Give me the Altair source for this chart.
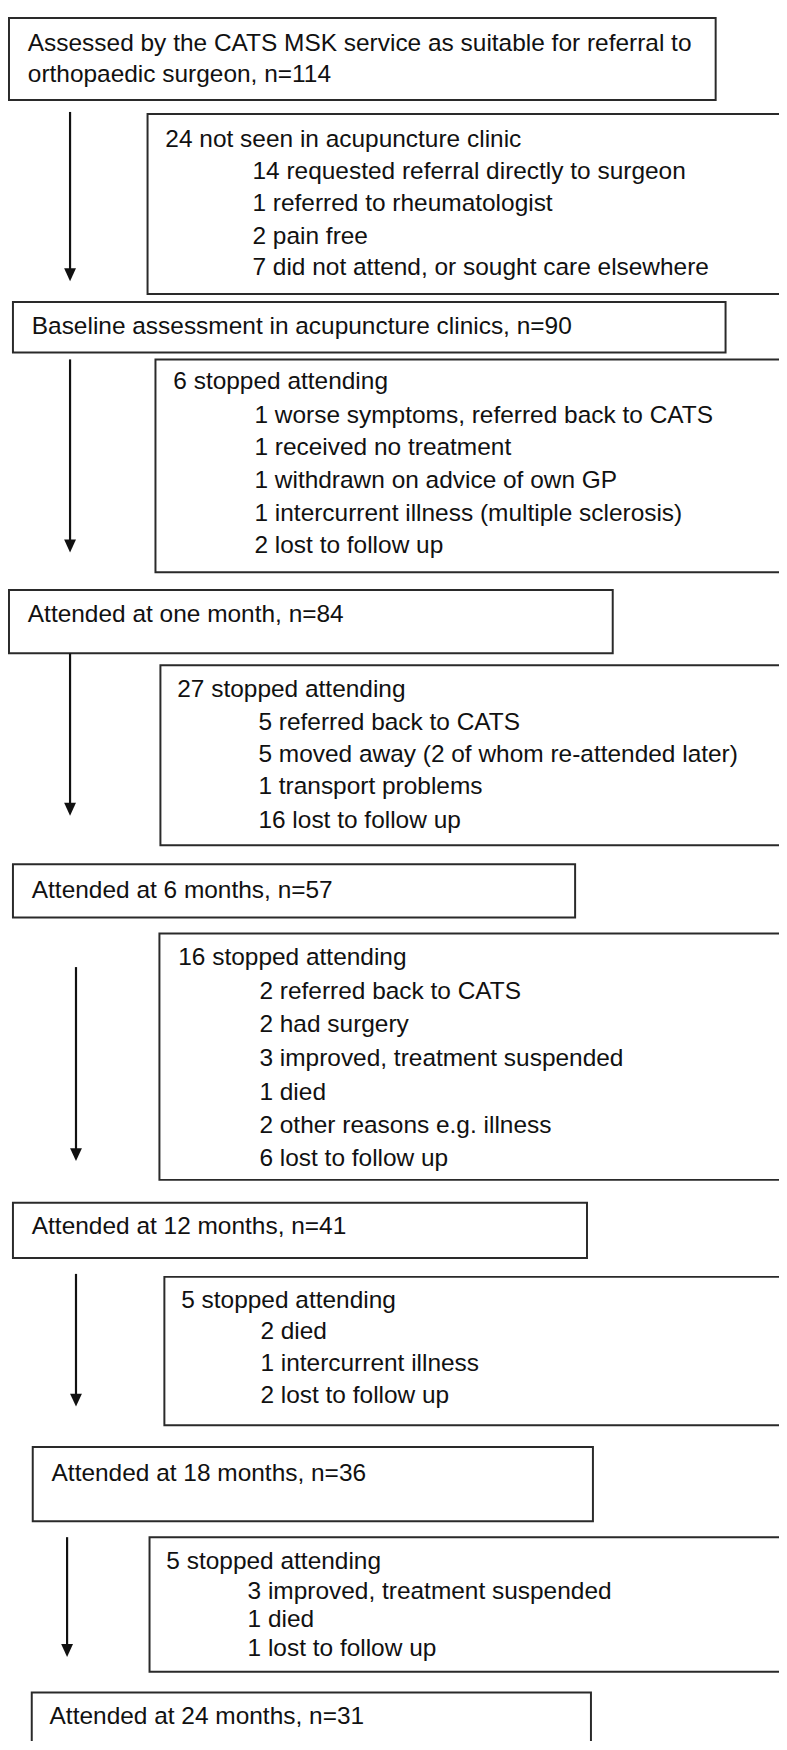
import altair as alt
import pandas as pd

# ---------------- content ----------------
stage_labels = [
    ["Assessed by the CATS MSK service as suitable for referral to",
     "orthopaedic surgeon, n=114"],
    ["Baseline assessment in acupuncture clinics, n=90"],
    ["Attended at one month, n=84"],
    ["Attended at 6 months, n=57"],
    ["Attended at 12 months, n=41"],
    ["Attended at 18 months, n=36"],
    ["Attended at 24 months, n=31"],
]
stage_n = [114, 90, 84, 57, 41, 36, 31]

exit_headers = [
    "24 not seen in acupuncture clinic",
    "6 stopped attending",
    "27 stopped attending",
    "16 stopped attending",
    "5 stopped attending",
    "5 stopped attending",
]
exit_reasons = [
    ["14 requested referral directly to surgeon",
     "1 referred to rheumatologist",
     "2 pain free",
     "7 did not attend, or sought care elsewhere"],
    ["1 worse symptoms, referred back to CATS",
     "1 received no treatment",
     "1 withdrawn on advice of own GP",
     "1 intercurrent illness (multiple sclerosis)",
     "2 lost to follow up"],
    ["5 referred back to CATS",
     "5 moved away (2 of whom re-attended later)",
     "1 transport problems",
     "16 lost to follow up"],
    ["2 referred back to CATS",
     "2 had surgery",
     "3 improved, treatment suspended",
     "1 died",
     "2 other reasons e.g. illness",
     "6 lost to follow up"],
    ["2 died",
     "1 intercurrent illness",
     "2 lost to follow up"],
    ["3 improved, treatment suspended",
     "1 died",
     "1 lost to follow up"],
]

# ---------------- layout (pixel space of the figure) ----------------
main_x0 = [9, 13, 9, 13, 13, 33, 32]
main_x1 = [723, 733, 619, 581, 593, 599, 597]
main_y0 = [9, 296, 587, 864, 1206, 1453, 1701]
main_y1 = [92, 347, 651, 918, 1262, 1528, 1790]
main_tx = [28, 32, 28, 32, 32, 52, 50]
main_base = [[42, 74], [328], [619], [898], [1238], [1487], [1733]]

side_x0 = [149, 157, 162, 161, 166, 151]
side_y0 = [106, 354, 663, 934, 1281, 1544]
side_y1 = [288, 569, 845, 1183, 1431, 1680]
side_tx = [167, 175, 179, 180, 183, 168]
side_sx = [255, 257, 261, 262, 263, 250]
side_base = [
    [139, 172, 204, 237, 269],
    [384, 418, 451, 484, 517, 550],
    [695, 728, 761, 793, 827],
    [966, 1000, 1034, 1068, 1102, 1136, 1169],
    [1312, 1344, 1376, 1408],
    [1576, 1606, 1635, 1664],
]
side_right = 820

arrow_x = [70.7, 70.7, 70.7, 76.7, 76.7, 67.7]
arrow_y0 = [104, 354, 651, 968, 1278, 1544]
arrow_y1 = [275, 549, 815, 1164, 1412, 1665]
head_h = 13

# ---------------- tables ----------------
boxes = []
for i in range(len(stage_n)):
    boxes.append(dict(x=main_x0[i], x2=main_x1[i], y=main_y0[i], y2=main_y1[i]))
for i in range(len(exit_headers)):
    boxes.append(dict(x=side_x0[i], x2=side_right, y=side_y0[i], y2=side_y1[i]))
boxes = pd.DataFrame(boxes)

texts = []
for i, lines in enumerate(stage_labels):
    for j, line in enumerate(lines):
        texts.append(dict(x=main_tx[i], y=main_base[i][j], t=line))
for i, head in enumerate(exit_headers):
    texts.append(dict(x=side_tx[i], y=side_base[i][0], t=head))
    for j, line in enumerate(exit_reasons[i]):
        texts.append(dict(x=side_sx[i], y=side_base[i][j + 1], t=line))
texts = pd.DataFrame(texts)

arrows = pd.DataFrame(dict(
    x=arrow_x, y=arrow_y0, y2=[b - head_h + 2 for b in arrow_y1],
    hy=[b - head_h / 2 for b in arrow_y1]))

# ---------------- chart ----------------
W, H = 779, 1742
xs = alt.Scale(domain=[8, 787], nice=False, zero=False)
ys = alt.Scale(domain=[8, 1750], nice=False, zero=False, reverse=True)

def X(f):
    return alt.X(f, type="quantitative", scale=xs, axis=None)

def Y(f):
    return alt.Y(f, type="quantitative", scale=ys, axis=None)

INK = "#2a2a2a"

box_layer = alt.Chart(boxes).mark_rect(
    fill="white", fillOpacity=0, stroke=INK, strokeWidth=2, clip=True
).encode(x=X("x"), x2="x2", y=Y("y"), y2="y2")

text_layer = alt.Chart(texts).mark_text(
    align="left", baseline="alphabetic", font="Liberation Sans",
    fontSize=24.7, color="#111111", clip=True
).encode(x=X("x"), y=Y("y"), text="t:N")

rule_layer = alt.Chart(arrows).mark_rule(
    stroke="#111111", strokeWidth=2.2
).encode(x=X("x"), y=Y("y"), y2="y2")

head_layer = alt.Chart(arrows).mark_point(
    shape="M-0.92,-1L0.92,-1L0,1Z", filled=True, color="#111111",
    opacity=1, size=head_h * head_h, strokeWidth=0
).encode(x=X("x"), y=Y("hy"))

chart = alt.layer(box_layer, rule_layer, head_layer, text_layer).properties(
    width=W, height=H, padding=0, autosize=alt.AutoSizeParams(type="none"),
    background="white"
).configure_view(stroke=None)

chart.save("out.html", embed_options={"renderer": "svg", "actions": False})
